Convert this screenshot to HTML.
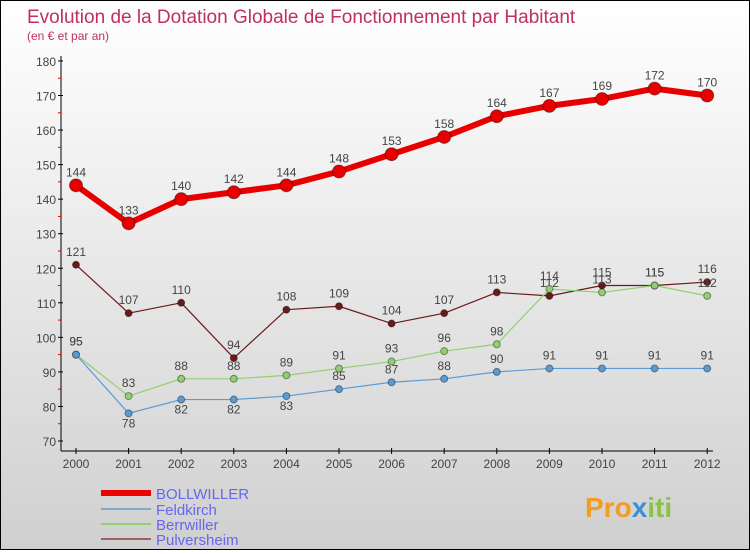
<!DOCTYPE html>
<html><head><meta charset="utf-8"><style>
body{margin:0;width:750px;height:550px;overflow:hidden}
#c{position:relative;width:748px;height:548px;border:1px solid #000;background:linear-gradient(#fff,#d0d0d0);font-family:"Liberation Sans",sans-serif}
</style></head><body>
<div id="c">
<svg id="s" width="748" height="548" xmlns="http://www.w3.org/2000/svg">
<text x="26" y="22" font-size="19" fill="#c0305a">Evolution de la Dotation Globale de Fonctionnement par Habitant</text>
<text x="26" y="39" font-size="12" fill="#c0305a">(en € et par an)</text>
<g id="axes"></g><g id="series"></g>
<g>
<line x1="100" y1="492" x2="150" y2="492" stroke="#e00" stroke-width="6"/>
<text x="155" y="498" font-size="15" fill="#6666ee">BOLLWILLER</text>
<line x1="100" y1="508" x2="150" y2="508" stroke="#7aaad0" stroke-width="2"/>
<text x="155" y="514" font-size="15" fill="#6666ee">Feldkirch</text>
<line x1="100" y1="523" x2="150" y2="523" stroke="#90d070" stroke-width="2"/>
<text x="155" y="529" font-size="15" fill="#6666ee">Berrwiller</text>
<line x1="100" y1="538" x2="150" y2="538" stroke="#a06060" stroke-width="2"/>
<text x="155" y="544" font-size="15" fill="#6666ee">Pulversheim</text>
</g>
<text x="584" y="516" font-size="28" font-weight="bold" fill="#f39c1f">Pro<tspan fill="#3a8fd6">x</tspan><tspan fill="#8bc34a">iti</tspan></text>
</svg></div>
<script>
const years=[2000,2001,2002,2003,2004,2005,2006,2007,2008,2009,2010,2011,2012];
const yTicks=[70,80,90,100,110,120,130,140,150,160,170,180];
const bollwiller=[144,133,140,142,144,148,153,158,164,167,169,172,170];
const feldkirch=[95,78,82,82,83,85,87,88,90,91,91,91,91];
const berrwiller=[95,83,88,88,89,91,93,96,98,114,113,115,112];
const pulversheim=[121,107,110,94,108,109,104,107,113,112,115,115,116];
const NS="http://www.w3.org/2000/svg";
const X=i=>75+i*52.6;
const Y=v=>440-(v-70)*3.455;
function mk(t,a,p){const e=document.createElementNS(NS,t);for(const k in a)e.setAttribute(k,a[k]);p.appendChild(e);return e;}
const ax=document.getElementById('axes');
let l=mk('line',{x1:60,y1:55,x2:60,y2:450,stroke:'#000'},ax);


l=mk('line',{x1:60,y1:450,x2:712,y2:450,stroke:'#000'},ax);


yTicks.forEach(v=>{
 mk('line',{x1:57,y1:Y(v),x2:62,y2:Y(v),stroke:'#000'},ax);
 if(v<180)mk('line',{x1:57,y1:Y(v+5),x2:60,y2:Y(v+5),stroke:'#e00'},ax);
 const t=mk('text',{x:55,y:Y(v)+5,'font-size':12,fill:'#444','text-anchor':'end'},ax);t.textContent=v;
 
 
});
years.forEach((y,i)=>{
 mk('line',{x1:X(i),y1:447,x2:X(i),y2:453,stroke:'#000'},ax);
 const t=mk('text',{x:X(i),y:467,'font-size':12,fill:'#444','text-anchor':'middle'},ax);t.textContent=y;
 
 
});
const sg=document.getElementById('series');
function draw(name,vals,color,w,r){
 const g=mk('g',{},sg);
 
 
 const p=mk('polyline',{points:vals.map((v,i)=>X(i)+','+Y(v)).join(' '),fill:'none',stroke:color,'stroke-width':w,'stroke-linejoin':'round'},g);
 
 
 vals.forEach((v,i)=>{
  const c=mk('circle',{cx:X(i),cy:Y(v),r:r,fill:color,stroke:'rgba(0,0,0,0.4)','stroke-width':1},g);
  
  
  const below=name==='feldkirch'&&i>=1&&i<=4;
  const t=mk('text',{x:X(i),y:Y(v)+(below?14:-9),'font-size':12,fill:'#444','text-anchor':'middle'},g);
  t.textContent=v;
  
  
 });
}
draw('pulversheim',pulversheim,'#6b1a1a',1.2,3.5);
draw('berrwiller',berrwiller,'#90d070',1.2,3.5);
draw('feldkirch',feldkirch,'#5b9bd5',1.2,3.5);
draw('bollwiller',bollwiller,'#e80000',6,6.5);
</script>
</body></html>
